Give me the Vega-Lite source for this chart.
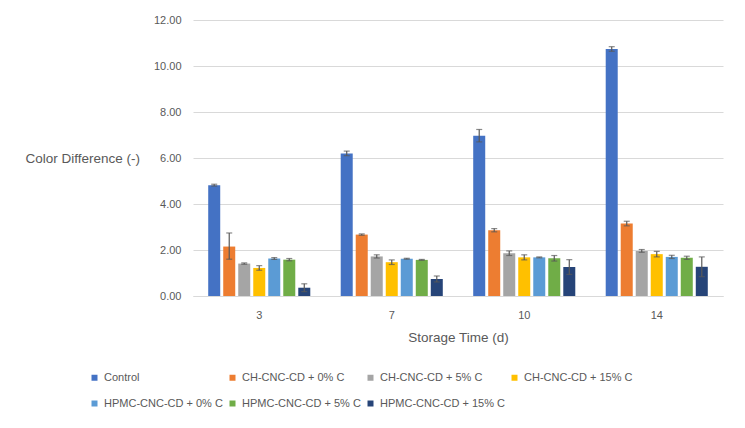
{
  "$schema": "https://vega.github.io/schema/vega-lite/v6.json",
  "autosize": "none",
  "width": 530,
  "height": 276,
  "padding": {"left": 193, "top": 20, "right": 22, "bottom": 132},
  "background": "white",
  "config": {
    "font": "Liberation Sans",
    "view": {"stroke": null},
    "axis": {"labelColor": "#595959", "titleColor": "#595959", "labelFontSize": 11, "titleFontSize": 13.5, "titleFontWeight": "normal"},
    "legend": {"labelColor": "#595959", "labelFontSize": 11}
  },
  "data": {
    "values": [
      {"time": 3, "series": "Control", "value": 4.82, "lo": 4.78, "hi": 4.86},
      {"time": 3, "series": "CH-CNC-CD + 0% C", "value": 2.15, "lo": 1.60, "hi": 2.74},
      {"time": 3, "series": "CH-CNC-CD + 5% C", "value": 1.41, "lo": 1.38, "hi": 1.44},
      {"time": 3, "series": "CH-CNC-CD + 15% C", "value": 1.22, "lo": 1.12, "hi": 1.32},
      {"time": 3, "series": "HPMC-CNC-CD + 0% C", "value": 1.63, "lo": 1.59, "hi": 1.67},
      {"time": 3, "series": "HPMC-CNC-CD + 5% C", "value": 1.58, "lo": 1.53, "hi": 1.63},
      {"time": 3, "series": "HPMC-CNC-CD + 15% C", "value": 0.36, "lo": 0.19, "hi": 0.53},
      {"time": 7, "series": "Control", "value": 6.20, "lo": 6.10, "hi": 6.30},
      {"time": 7, "series": "CH-CNC-CD + 0% C", "value": 2.67, "lo": 2.64, "hi": 2.70},
      {"time": 7, "series": "CH-CNC-CD + 5% C", "value": 1.72, "lo": 1.65, "hi": 1.79},
      {"time": 7, "series": "CH-CNC-CD + 15% C", "value": 1.47, "lo": 1.37, "hi": 1.57},
      {"time": 7, "series": "HPMC-CNC-CD + 0% C", "value": 1.62, "lo": 1.60, "hi": 1.64},
      {"time": 7, "series": "HPMC-CNC-CD + 5% C", "value": 1.57, "lo": 1.55, "hi": 1.59},
      {"time": 7, "series": "HPMC-CNC-CD + 15% C", "value": 0.74, "lo": 0.61, "hi": 0.87},
      {"time": 10, "series": "Control", "value": 6.97, "lo": 6.70, "hi": 7.24},
      {"time": 10, "series": "CH-CNC-CD + 0% C", "value": 2.86, "lo": 2.79, "hi": 2.93},
      {"time": 10, "series": "CH-CNC-CD + 5% C", "value": 1.86, "lo": 1.76, "hi": 1.96},
      {"time": 10, "series": "CH-CNC-CD + 15% C", "value": 1.68, "lo": 1.57, "hi": 1.79},
      {"time": 10, "series": "HPMC-CNC-CD + 0% C", "value": 1.68, "lo": 1.66, "hi": 1.70},
      {"time": 10, "series": "HPMC-CNC-CD + 5% C", "value": 1.64, "lo": 1.52, "hi": 1.76},
      {"time": 10, "series": "HPMC-CNC-CD + 15% C", "value": 1.26, "lo": 0.94, "hi": 1.58},
      {"time": 14, "series": "Control", "value": 10.74, "lo": 10.64, "hi": 10.84},
      {"time": 14, "series": "CH-CNC-CD + 0% C", "value": 3.15, "lo": 3.05, "hi": 3.25},
      {"time": 14, "series": "CH-CNC-CD + 5% C", "value": 1.96, "lo": 1.90, "hi": 2.02},
      {"time": 14, "series": "CH-CNC-CD + 15% C", "value": 1.82, "lo": 1.70, "hi": 1.94},
      {"time": 14, "series": "HPMC-CNC-CD + 0% C", "value": 1.70, "lo": 1.63, "hi": 1.77},
      {"time": 14, "series": "HPMC-CNC-CD + 5% C", "value": 1.66, "lo": 1.59, "hi": 1.73},
      {"time": 14, "series": "HPMC-CNC-CD + 15% C", "value": 1.27, "lo": 0.84, "hi": 1.70}
    ]
  },
  "encoding": {
    "x": {
      "field": "time", "type": "ordinal", "sort": [3, 7, 10, 14],
      "scale": {"paddingInner": 0.207, "paddingOuter": 0.1035},
      "axis": {"labelAngle": 0, "ticks": false, "domainColor": "#D9D9D9", "labelPadding": 13, "title": "Storage Time (d)", "titlePadding": 10}
    },
    "xOffset": {
      "field": "series", "type": "nominal",
      "sort": ["Control", "CH-CNC-CD + 0% C", "CH-CNC-CD + 5% C", "CH-CNC-CD + 15% C", "HPMC-CNC-CD + 0% C", "HPMC-CNC-CD + 5% C", "HPMC-CNC-CD + 15% C"],
      "scale": {"paddingInner": 0.2, "paddingOuter": 0.1}
    }
  },
  "layer": [
    {
      "mark": {"type": "bar"},
      "encoding": {
        "y": {
          "field": "value", "type": "quantitative", "scale": {"domain": [0, 12]},
          "axis": {"values": [0, 2, 4, 6, 8, 10, 12], "format": ".2f", "grid": true, "gridColor": "#D9D9D9", "domain": false, "ticks": false, "labelPadding": 12, "title": "Color Difference (-)", "titleAngle": 0, "titleAlign": "left", "titleBaseline": "middle", "titleX": -168, "titleY": 138}
        },
        "color": {
          "field": "series", "type": "nominal",
          "scale": {
            "domain": ["Control", "CH-CNC-CD + 0% C", "CH-CNC-CD + 5% C", "CH-CNC-CD + 15% C", "HPMC-CNC-CD + 0% C", "HPMC-CNC-CD + 5% C", "HPMC-CNC-CD + 15% C"],
            "range": ["#4472C4", "#ED7D31", "#A5A5A5", "#FFC000", "#5B9BD5", "#70AD47", "#264478"]
          },
          "legend": {"title": null, "orient": "none", "direction": "horizontal", "legendX": -104, "legendY": 352, "columns": 4, "symbolType": "square", "symbolSize": 36, "symbolStrokeWidth": 0, "rowPadding": 14, "columnPadding": 4, "labelOffset": 4}
        }
      }
    },
    {
      "mark": {"type": "rule", "color": "#595959", "strokeWidth": 1.2},
      "encoding": {"y": {"field": "lo", "type": "quantitative"}, "y2": {"field": "hi"}}
    },
    {
      "mark": {"type": "tick", "color": "#595959", "size": 6, "thickness": 1.2},
      "encoding": {"y": {"field": "lo", "type": "quantitative"}}
    },
    {
      "mark": {"type": "tick", "color": "#595959", "size": 6, "thickness": 1.2},
      "encoding": {"y": {"field": "hi", "type": "quantitative"}}
    }
  ]
}
